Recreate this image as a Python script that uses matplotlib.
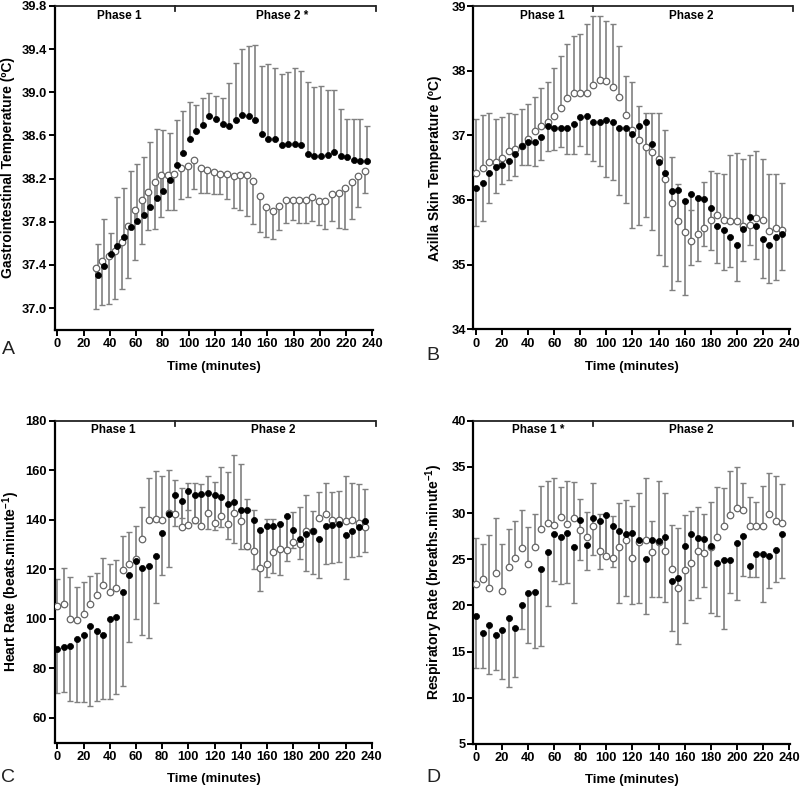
import numpy as np
import matplotlib
matplotlib.use('Agg')
import matplotlib.pyplot as plt

plt.rcParams['font.family'] = ['Liberation Sans', 'DejaVu Sans']
plt.rcParams['font.weight'] = 'bold'
plt.rcParams['mathtext.fontset'] = 'custom'
plt.rcParams['mathtext.rm'] = 'Liberation Sans:bold'
plt.rcParams['mathtext.it'] = 'Liberation Sans:bold'
plt.rcParams['mathtext.bf'] = 'Liberation Sans:bold'

# ---------------- data ----------------
time_a = np.arange(30, 240, 5)
time_bcd = np.arange(0, 240, 5)

# Panel A: gastrointestinal temperature
gi_open = [37.37, 37.44, 37.48, 37.53, 37.61, 37.76, 37.91, 38.00, 38.08, 38.17, 38.23, 38.23, 38.24, 38.30,
           38.32, 38.37, 38.30, 38.28, 38.26, 38.24, 38.24, 38.22, 38.23, 38.23, 38.18, 38.04, 37.94, 37.90,
           37.95, 38.00, 38.00, 38.00, 38.00, 38.03, 37.99, 37.99, 38.06, 38.07, 38.11, 38.17, 38.22, 38.27]
gi_open_low = [36.99, 37.03, 37.04, 37.08, 37.18, 37.28, 37.45, 37.59, 37.72, 37.73, 37.84, 37.91, 37.91, 38.01,
               38.03, 38.10, 38.07, 38.07, 38.06, 38.06, 38.01, 37.93, 37.91, 37.85, 37.78, 37.71, 37.66, 37.64,
               37.72, 37.79, 37.82, 37.79, 37.79, 37.81, 37.77, 37.73, 37.81, 37.74, 37.73, 37.83, 37.94, 38.07]
gi_filled = [37.31, 37.39, 37.50, 37.58, 37.66, 37.75, 37.81, 37.86, 37.94, 38.02, 38.09, 38.19, 38.33, 38.44,
             38.57, 38.64, 38.70, 38.78, 38.75, 38.71, 38.69, 38.74, 38.79, 38.78, 38.74, 38.61, 38.57, 38.57,
             38.51, 38.52, 38.52, 38.51, 38.43, 38.41, 38.41, 38.42, 38.45, 38.41, 38.40, 38.37, 38.36, 38.36]
gi_filled_high = [37.59, 37.83, 37.70, 38.03, 38.11, 38.27, 38.34, 38.40, 38.54, 38.66, 38.65, 38.62, 38.74, 38.83,
                  38.91, 38.88, 38.95, 38.99, 38.97, 38.95, 39.09, 39.27, 39.40, 39.43, 39.44, 39.24, 39.26, 39.23,
                  39.17, 39.19, 39.23, 39.20, 39.10, 39.05, 39.06, 39.02, 39.02, 38.85, 38.75, 38.75, 38.75, 38.69]

# Panel B: axilla skin temperature
ax_open = [36.41, 36.50, 36.58, 36.59, 36.65, 36.75, 36.79, 36.84, 36.95, 37.07,
           37.14, 37.20, 37.30, 37.42, 37.57, 37.66, 37.66, 37.66, 37.78, 37.86,
           37.84, 37.74, 37.60, 37.31, 37.09, 36.92, 36.82, 36.74, 36.63, 36.32,
           35.95, 35.68, 35.50, 35.37, 35.47, 35.57, 35.69, 35.76, 35.69, 35.68,
           35.68, 35.60, 35.62, 35.72, 35.69, 35.52, 35.56, 35.54]
ax_open_high = [37.25, 37.32, 37.35, 37.25, 37.28, 37.34, 37.33, 37.40, 37.48, 37.59,
                37.73, 37.83, 38.04, 38.22, 38.41, 38.53, 38.56, 38.72, 38.85, 38.84,
                38.77, 38.72, 38.38, 37.92, 37.83, 37.45, 37.35, 37.35, 37.34, 37.08,
                36.67, 36.25, 36.00, 35.84, 36.05, 36.28, 36.45, 36.42, 36.40, 36.70,
                36.73, 36.64, 36.70, 36.75, 36.63, 36.40, 36.40, 36.26]
ax_filled = [36.19, 36.27, 36.42, 36.51, 36.54, 36.61, 36.71, 36.84, 36.89, 36.90,
             36.98, 37.14, 37.12, 37.12, 37.11, 37.17, 37.28, 37.30, 37.20, 37.20,
             37.23, 37.20, 37.12, 37.12, 37.02, 37.15, 37.20, 36.87, 36.59, 36.41,
             36.14, 36.15, 35.98, 36.10, 36.03, 36.02, 35.88, 35.60, 35.54, 35.42,
             35.31, 35.55, 35.73, 35.60, 35.39, 35.31, 35.42, 35.47]
ax_filled_low = [35.59, 35.68, 35.95, 36.11, 36.24, 36.31, 36.37, 36.54, 36.54, 36.52,
                 36.62, 36.75, 36.77, 36.82, 36.71, 36.71, 36.84, 36.71, 36.61, 36.52,
                 36.35, 36.31, 36.08, 35.96, 35.56, 35.61, 35.73, 35.54, 35.15, 34.98,
                 34.61, 34.75, 34.53, 35.00, 35.06, 35.29, 35.22, 35.02, 34.91, 34.96,
                 34.74, 35.06, 35.30, 35.09, 34.79, 34.72, 34.76, 34.91]

# Panel C: heart rate
hr_open = [105.0, 105.9, 100.0, 99.6, 101.9, 106.1, 109.4, 113.5, 110.8, 112.4,
           119.8, 122.2, 124.2, 132.2, 139.7, 140.3, 139.7, 142.7, 142.3, 137.0,
           138.0, 140.0, 137.3, 142.7, 138.7, 141.4, 138.3, 142.7, 139.3, 129.2,
           127.5, 120.5, 122.2, 126.9, 128.3, 127.6, 130.8, 130.2, 135.3, 135.6,
           140.7, 142.3, 140.0, 140.0, 139.3, 140.0, 138.7, 137.1]
hr_open_high = [116.0, 120.5, 116.7, 112.7, 114.9, 117.4, 118.3, 124.5, 122.1, 123.8,
                133.5, 135.0, 137.3, 145.1, 156.8, 159.5, 157.8, 160.2, 156.2, 152.8,
                154.8, 154.8, 154.5, 157.8, 155.1, 161.3, 159.2, 166.3, 162.7, 148.5,
                144.0, 136.0, 140.3, 140.3, 138.7, 141.4, 143.1, 145.1, 150.1, 143.4,
                151.0, 154.8, 151.2, 151.8, 157.8, 154.8, 154.4, 152.5]
hr_filled = [87.8, 88.5, 88.9, 92.0, 93.6, 97.2, 95.2, 93.6, 99.8, 100.5,
             110.8, 117.8, 123.4, 120.5, 121.4, 125.5, 134.6, 142.3, 149.8, 147.7,
             151.7, 149.8, 150.5, 150.6, 150.0, 149.0, 146.3, 147.0, 143.8, 143.8,
             140.0, 136.0, 137.6, 137.6, 138.4, 141.6, 136.0, 132.2, 134.4, 135.6,
             132.2, 137.6, 138.0, 138.3, 133.7, 135.3, 137.1, 139.6]
hr_filled_low = [70.0, 70.6, 66.6, 66.3, 66.3, 64.6, 66.9, 67.7, 67.7, 69.6,
                 73.0, 90.6, 100.0, 93.3, 92.2, 106.3, 117.8, 121.1, 137.3, 140.7,
                 144.0, 138.7, 138.0, 136.2, 136.0, 137.1, 132.2, 130.4, 128.3, 128.3,
                 120.1, 111.1, 117.0, 118.3, 117.5, 123.3, 128.7, 124.0, 119.3, 118.2,
                 116.6, 122.0, 122.4, 123.0, 116.0, 125.0, 125.4, 127.1]

# Panel D: respiratory rate
rr_open = [22.32, 22.83, 21.86, 23.50, 21.52, 24.11, 25.13, 26.25, 24.49, 26.33,
           28.24, 28.96, 28.75, 29.61, 28.78, 29.47, 28.17, 27.45, 28.64, 25.85,
           25.33, 25.17, 26.29, 27.08, 25.17, 26.83, 27.08, 25.75, 26.90, 25.90,
           23.91, 21.86, 23.84, 24.60, 25.90, 25.65, 26.36, 27.45, 28.63, 29.79,
           30.51, 30.33, 28.60, 28.60, 28.60, 29.90, 29.14, 28.89]
rr_open_high = [27.3, 26.7, 27.6, 29.5, 26.6, 28.3, 29.1, 30.3, 28.5, 29.9,
                32.93, 33.47, 33.76, 32.8, 33.5, 33.35, 31.49, 30.1, 33.22, 29.9,
                29.79, 29.68, 31.06, 31.42, 30.77, 32.14, 33.84, 29.14, 33.51, 32.21,
                28.71, 28.42, 29.79, 30.27, 30.70, 29.86, 31.17, 32.86, 32.75, 34.55,
                34.95, 33.22, 31.78, 31.24, 32.97, 34.30, 34.01, 33.11]
rr_filled = [18.82, 17.05, 17.92, 16.80, 17.34, 18.61, 17.53, 20.05, 21.31, 21.42,
             23.91, 25.78, 27.70, 27.36, 27.81, 26.33, 29.28, 26.55, 29.43, 29.14,
             29.79, 28.60, 28.08, 27.70, 27.88, 27.08, 25.03, 27.08, 26.97, 27.45,
             22.68, 22.93, 26.47, 27.74, 27.34, 27.20, 26.44, 24.56, 24.92, 24.92,
             26.80, 27.52, 24.31, 25.54, 25.54, 25.39, 26.00, 27.70]
rr_filled_low = [13.25, 13.25, 12.55, 13.0, 12.0, 11.2, 12.3, 17.5, 15.9, 15.4,
                 15.6, 19.9, 22.6, 22.3, 22.4, 20.3, 24.9, 23.8, 25.5, 23.94,
                 25.5, 24.12, 20.30, 21.06, 20.16, 20.23, 19.07, 20.88, 20.95, 20.34,
                 17.27, 15.83, 18.14, 20.59, 20.84, 22.03, 19.14, 18.85, 17.45, 21.31,
                 20.59, 23.19, 23.04, 23.04, 20.34, 21.85, 22.57, 23.01]

x_ticks = list(range(0, 241, 20))
yticks_a = [37.0, 37.4, 37.8, 38.2, 38.6, 39.0, 39.4, 39.8]
yticks_b = [34, 35, 36, 37, 38, 39]
yticks_c = [60, 80, 100, 120, 140, 160, 180]
yticks_d = [5, 10, 15, 20, 25, 30, 35, 40]

# ---------------- drawing ----------------
W, H = 800, 789
fig = plt.figure(figsize=(W / 100, H / 100), dpi=100)

XLIM = (-2, 240.5)
ECOL = '#808080'


def make_axes(left_px, right_px, top_px, bottom_px):
    return fig.add_axes([left_px / W, 1 - bottom_px / H, (right_px - left_px) / W, (bottom_px - top_px) / H])


def panel(ax, t, o, o_end, f, f_end, open_up, ylim, yticks, yfmt, phases, dodge=(0.0, 0.0)):
    t = np.asarray(t, float)
    o = np.asarray(o); oe = np.asarray(o_end)
    f = np.asarray(f); fe = np.asarray(f_end)
    z_o = np.zeros_like(o); z_f = np.zeros_like(f)
    if open_up:
        o_err = [z_o, oe - o]
        f_err = [f - fe, z_f]
    else:
        o_err = [o - oe, z_o]
        f_err = [z_f, fe - f]
    ax.errorbar(t + dodge[0], o, yerr=o_err, fmt='none', ecolor=ECOL, elinewidth=1.2,
                capsize=2.0, capthick=1.0, zorder=2)
    ax.errorbar(t + dodge[1], f, yerr=f_err, fmt='none', ecolor=ECOL, elinewidth=1.2,
                capsize=2.0, capthick=1.0, zorder=2)
    ax.plot(t + dodge[0], o, 'o', ms=4.7, mfc='white', mec='#666666', mew=0.9, zorder=4, ls='none')
    ax.plot(t + dodge[1], f, 'o', ms=4.4, mfc='black', mec='black', mew=0.5, zorder=5, ls='none')

    ax.set_xlim(*XLIM)
    ax.set_ylim(*ylim)
    ax.set_xticks(x_ticks)
    ax.set_yticks(yticks)
    ax.set_yticklabels([yfmt.format(v) for v in yticks])
    for s in ('top', 'right'):
        ax.spines[s].set_visible(False)
    for s in ('left', 'bottom'):
        ax.spines[s].set_linewidth(1.6)
        ax.spines[s].set_color('black')
    ax.tick_params(axis='both', direction='out', length=4, width=1.4, labelsize=9.3, colors='black')
    ax.tick_params(axis='y', pad=1.5)
    ax.tick_params(axis='x', pad=2)

    # phase bracket along the top
    yr = ylim[1] - ylim[0]
    ytop = ylim[1]
    ax.plot([XLIM[0], 243], [ytop, ytop], color='#222222', lw=1.3, clip_on=False,
            solid_capstyle='butt', zorder=6)
    for xb in (90, 243):
        ax.plot([xb, xb], [ytop, ytop - 0.016 * yr], color='#222222', lw=1.3, clip_on=False, zorder=6)
    for label, xp in phases:
        ax.text(xp, ytop - 0.03 * yr, label, ha='center', va='center', fontsize=8.5, fontweight='bold')


# Axes placement (pixels)
axA = make_axes(54.7, 373.1, 6, 329.7)
axB = make_axes(473.4, 789.6, 6, 329.3)
axC = make_axes(54.7, 372.4, 420.7, 742.5)
axD = make_axes(473.4, 789.6, 420.7, 744.0)

panel(axA, time_a, gi_open, gi_open_low, gi_filled, gi_filled_high, False, (36.8, 39.8), yticks_a, '{:.1f}',
      [('Phase 1', 47), ('Phase 2 *', 171)], dodge=(-0.8, 0.8))
panel(axB, time_bcd, ax_open, ax_open_high, ax_filled, ax_filled_low, True, (34, 39), yticks_b, '{:d}',
      [('Phase 1', 51), ('Phase 2', 165)])
panel(axC, time_bcd, hr_open, hr_open_high, hr_filled, hr_filled_low, True, (50, 180), yticks_c, '{:d}',
      [('Phase 1', 43), ('Phase 2', 165)])
panel(axD, time_bcd, rr_open, rr_open_high, rr_filled, rr_filled_low, True, (5, 40), yticks_d, '{:d}',
      [('Phase 1 *', 48), ('Phase 2', 165)])

# axis titles (pixel positions)
ylabels = [
    (8.5, 168, 'Gastrointestinal Temperature (ºC)'),
    (434.5, 168, 'Axilla Skin Temperature (ºC)'),
    (11.0, 582, r'Heart Rate (beats.minute$^{-1}$)'),
    (434.5, 582, r'Respiratory Rate (breaths.minute$^{-1}$)'),
]
for x, y, s in ylabels:
    fig.text(x / W, 1 - y / H, s, rotation=90, ha='center', va='center', fontsize=10, fontweight='bold')

xlabels = [(214, 367), (631.5, 367), (213.5, 779), (631.5, 780)]
for x, y in xlabels:
    fig.text(x / W, 1 - y / H, 'Time (minutes)', ha='center', va='center', fontsize=9.5, fontweight='bold')

letters = [(8, 350, 'A'), (433, 355, 'B'), (8, 778, 'C'), (433, 778, 'D')]
for x, y, s in letters:
    fig.text(x / W, 1 - y / H, s, ha='center', va='center', fontsize=14, fontweight='normal', color='#222222')

fig.savefig('out.png', dpi=100)
